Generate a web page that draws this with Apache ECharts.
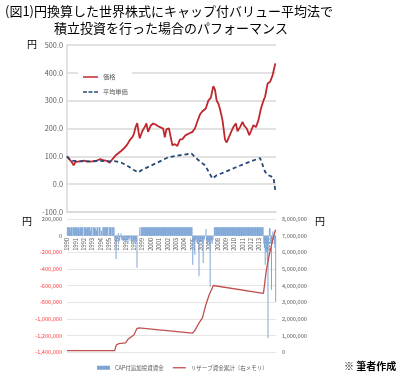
<!DOCTYPE html>
<html><head><meta charset="utf-8">
<script src="https://cdn.jsdelivr.net/npm/echarts@6/dist/echarts.min.js"></script>
<style>html,body{margin:0;padding:0;background:#fff}#c{width:400px;height:380px}</style>
</head><body><div id="c"></div>
<script>
// ---- data ----
var yearLabels = [1990,1991,1992,1993,1994,1995,1996,1997,1998,1999,2000,2001,2002,2003,2004,2005,2006,2007,2008,2009,2010,2011,2012,2013,2014];
var priceT = [1990.0,1990.2,1990.5,1990.8,1991.0,1991.2,1991.6,1992.0,1992.5,1993.0,1993.5,1994.0,1994.3,1994.8,1995.1,1995.3,1995.5,1995.8,1996.1,1996.5,1996.8,1997.2,1997.5,1997.8,1998.0,1998.2,1998.4,1998.6,1998.7,1999.0,1999.3,1999.5,1999.7,2000.0,2000.3,2000.6,2000.9,2001.2,2001.5,2001.7,2001.9,2002.2,2002.4,2002.6,2002.9,2003.2,2003.5,2003.8,2004.2,2004.6,2005.0,2005.3,2005.6,2005.9,2006.2,2006.4,2006.6,2006.9,2007.2,2007.5,2007.7,2007.9,2008.1,2008.3,2008.6,2008.9,2009.1,2009.3,2009.6,2009.9,2010.2,2010.4,2010.7,2011.0,2011.2,2011.5,2011.8,2012.0,2012.3,2012.6,2012.9,2013.2,2013.5,2013.7,2014.0,2014.3,2014.6,2014.92];
var priceV = [100,97,82,68,80,84,82,85,81,82,84,90,86,84,77,80,92,103,110,120,128,142,158,168,180,205,219,180,165,190,206,218,188,210,218,214,208,204,200,168,198,200,170,140,144,137,160,162,176,182,188,200,226,250,262,258,272,300,310,352,340,300,290,270,230,160,150,155,185,205,218,190,205,224,210,200,176,190,212,205,230,272,300,315,362,368,392,434];
var avgT = [1990.0,1990.3,1990.6,1991.0,1992.0,1993.0,1994.0,1995.0,1995.5,1996.0,1996.5,1997.0,1997.5,1998.0,1998.5,1999.0,2000.0,2001.0,2002.0,2003.0,2004.0,2004.9,2005.5,2006.1,2006.5,2007.4,2007.9,2009.0,2010.0,2011.0,2012.0,2013.1,2013.7,2014.1,2014.7,2014.92];
var avgV = [100,90,84,84,82,82,84,82,83,81,77,70,61,51,42,52,66,80,95,102,106,110,92,77,68,20,32,45,58,70,82,94,44,32,24,-24];
var reserveT = [1990.0,1995.7,1995.9,1996.2,1997.0,1997.3,1997.7,1998.0,1998.35,1998.6,2005.0,2005.3,2005.8,2006.2,2006.6,2007.0,2007.5,2013.5,2013.85,2014.2,2014.6,2014.95];
var reserveV = [80000,80000,420000,500000,550000,760000,920000,1020000,1400000,1450000,1130000,1300000,1750000,2050000,2830000,3430000,4000000,3530000,4940000,5840000,6750000,7350000];
// monthly CAP additional investment (thousand yen), one row per year
var capByYear = [
 [100,100,100,100,60,100,100,100,0,100,100,100],
 [100,100,80,100,100,100,60,100,100,100,100,0],
 [100,100,100,100,80,100,100,100,100,60,100,100],
 [0,100,100,100,80,100,60,100,100,0,100,100],
 [0,60,0,100,100,100,100,100,100,100,100,0],
 [100,100,100,100,0,100,100,100,-30,-50,-280,-60],
 [-40,30,-80,-60,-20,30,-50,-60,-20,-40,-60,-30],
 [-80,-60,-50,-100,-40,-30,-60,-20,-90,-40,-50,-30],
 [-60,-100,-40,-80,-385,0,0,0,100,0,100,100],
 [100,100,100,100,100,100,100,100,100,100,100,100],
 [100,100,100,100,100,100,100,100,100,100,100,100],
 [100,100,100,100,100,100,100,100,100,100,100,100],
 [100,100,100,100,100,100,100,100,100,100,100,100],
 [100,100,100,100,100,100,100,100,100,100,100,100],
 [100,100,100,100,100,100,100,100,100,100,100,100],
 [-350,-80,-60,-230,-50,-80,-40,-100,-60,-490,-80,-50],
 [-60,-40,-100,-330,-60,-40,0,80,-50,-100,-60,-80],
 [-100,-615,-80,-60,-100,-50,0,100,100,100,100,100],
 [100,100,100,100,100,100,100,100,100,100,100,100],
 [100,100,100,100,100,100,100,100,100,100,100,100],
 [100,100,100,100,100,100,100,100,100,100,100,100],
 [100,100,100,100,100,100,100,100,100,100,100,100],
 [100,100,100,100,100,100,100,100,100,100,100,100],
 [100,100,100,100,100,100,-100,-150,-350,-100,-200,-300],
 [-1236,-100,90,90,-100,-650,-100,50,-50,-100,-150,-795]
];
// ---- build ----
function pairs(t,v){return t.map(function(x,i){return [x,v[i]];});}
var capData=[];
capByYear.forEach(function(row,yi){row.forEach(function(v,m){capData.push([yearLabels[yi]+(m+0.5)/12, v*1000]);});});
var grayTxt='#595959', gridC='#d9d9d9', cjk='"Noto Sans CJK JP", sans-serif';
var solidIcon='path://M0,0h20v2h-20z';
var dashIcon='path://M0,0h5v2h-5zM7,0h5v2h-5zM14,0h5v2h-5z';
var chart=echarts.init(document.getElementById('c'),null,{renderer:'canvas'});
chart.setOption({
  animation:false,
  textStyle:{fontFamily:cjk},
  title:[
    {text:'(図1)円換算した世界株式にキャップ付バリュー平均法で',left:5,top:5,padding:0,textStyle:{fontSize:13,fontWeight:'normal',color:'#000',fontFamily:cjk}},
    {text:'積立投資を行った場合のパフォーマンス',left:54,top:22,padding:0,textStyle:{fontSize:13,fontWeight:'normal',color:'#000',fontFamily:cjk}},
    {text:'※ 筆者作成',left:344,top:361,padding:0,textStyle:{fontSize:10,fontWeight:'bold',color:'#000',fontFamily:cjk}}
  ],
  graphic:[
    {type:'text',left:27,top:39,style:{text:'円',fill:'#000',font:'10px '+cjk}},
    {type:'text',left:22,top:216,style:{text:'円',fill:'#000',font:'10px '+cjk}},
    {type:'text',left:315,top:216,style:{text:'円',fill:'#000',font:'10px '+cjk}}
  ],
  legend:[
    {orient:'vertical',left:78,top:70,itemWidth:15,itemHeight:2.5,itemGap:7,padding:[3,4,3,5],backgroundColor:'#fff',
     textStyle:{fontSize:6.2,color:grayTxt,lineHeight:8},
     data:[{name:'価格',icon:solidIcon},{name:'平均単価',icon:dashIcon}]},
    {orient:'horizontal',left:92,top:360,itemWidth:13,itemHeight:4,itemGap:9,
     textStyle:{fontSize:5.5,color:grayTxt},
     data:[{name:'CAP付追加投資資金',icon:'rect'},{name:'リザーブ資金累計（右メモリ）',icon:solidIcon}]}
  ],
  grid:[
    {left:67,right:124,top:45,height:167},
    {left:67,right:124,top:219,height:133},
    {left:67,right:124,top:235,height:1}
  ],
  xAxis:[
    {type:'value',gridIndex:0,min:1990,max:2015,axisLabel:{show:false},axisTick:{show:false},splitLine:{show:false},
     axisLine:{onZero:false,lineStyle:{color:gridC,width:1.5}}},
    {type:'value',gridIndex:1,min:1990,max:2015,axisLabel:{show:false},axisTick:{show:false},splitLine:{show:false},
     axisLine:{show:false}},
    {type:'value',gridIndex:2,min:1990,max:2015,interval:1,splitLine:{show:false},axisTick:{show:false},
     axisLine:{show:false,onZero:false},
     axisLabel:{rotate:90,fontSize:5.8,color:grayTxt,margin:2,showMaxLabel:false,
       formatter:function(v){return v<2015?String(v):'';}}}
  ],
  yAxis:[
    {type:'value',gridIndex:0,min:-100,max:500,interval:100,
     axisLine:{show:true,lineStyle:{color:gridC,width:1.5}},axisTick:{show:false},
     splitLine:{lineStyle:{color:gridC,width:1.5}},
     axisLabel:{fontSize:7.3,color:grayTxt,margin:4,formatter:function(v){return v.toFixed(1);}}},
    {type:'value',gridIndex:1,min:-1400000,max:200000,interval:200000,
     axisLine:{show:false},axisTick:{show:false},splitLine:{lineStyle:{color:'#e6e6e6',width:1}},
     axisLabel:{fontSize:5.6,margin:5,color:function(v){return v<0?'#ff3b3b':grayTxt;},
       formatter:function(v){return v.toLocaleString('en-US');}}},
    {type:'value',gridIndex:1,position:'right',min:0,max:8000000,interval:1000000,
     axisLine:{show:false},axisTick:{show:false},splitLine:{show:false},
     axisLabel:{fontSize:5.6,margin:6,color:grayTxt,formatter:function(v){return v.toLocaleString('en-US');}}},
    {type:'value',gridIndex:2,min:0,max:1,show:false}
  ],
  series:[
    {name:'価格',type:'line',xAxisIndex:0,yAxisIndex:0,data:pairs(priceT,priceV),symbol:'none',
     lineStyle:{color:'#c0262d',width:1.8},itemStyle:{color:'#c0262d'}},
    {name:'平均単価',type:'line',xAxisIndex:0,yAxisIndex:0,data:pairs(avgT,avgV),symbol:'none',
     lineStyle:{color:'#254a78',width:1.8,type:[4,3]},itemStyle:{color:'#254a78'}},
    {name:'CAP付追加投資資金',type:'bar',xAxisIndex:1,yAxisIndex:1,data:capData,barWidth:1,
     itemStyle:{color:'#7da5d6'}},
    {name:'リザーブ資金累計（右メモリ）',type:'line',xAxisIndex:1,yAxisIndex:2,data:pairs(reserveT,reserveV),symbol:'none',
     lineStyle:{color:'#c0504d',width:1.3},itemStyle:{color:'#c0504d'}}
  ]
});
</script></body></html>
